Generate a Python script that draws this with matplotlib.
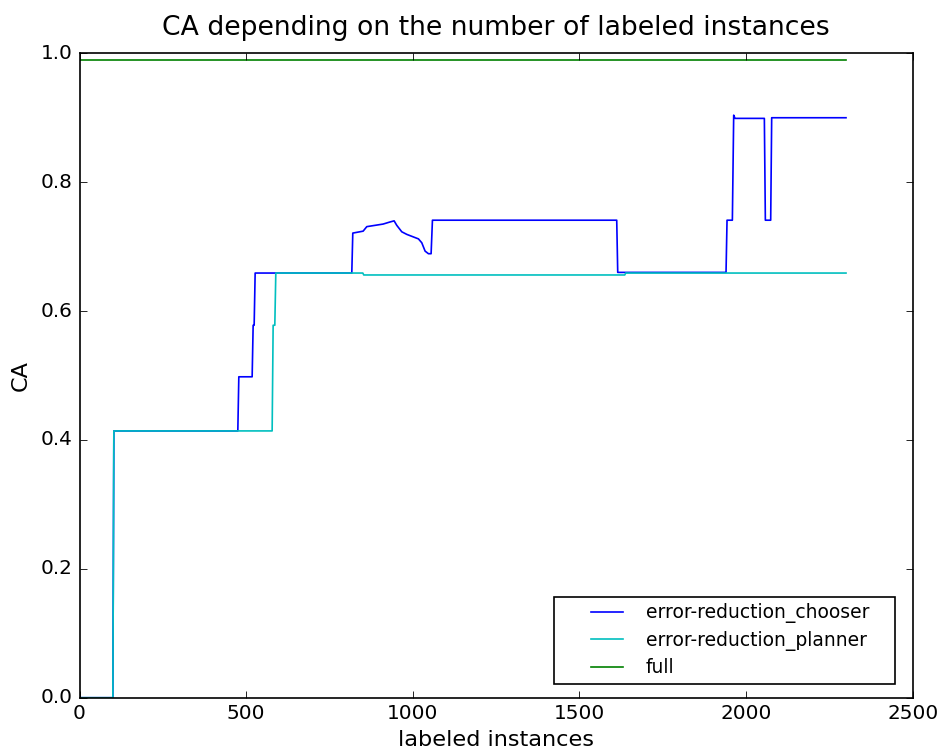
import numpy as np
import matplotlib
matplotlib.use("Agg")
import matplotlib.pyplot as plt
from matplotlib.legend_handler import HandlerLine2D

plt.style.use("classic")

# learning curves: (labeled instances, CA) break points
chooser_x = [0, 100, 103, 475, 478, 518, 521, 524, 527, 535,
             817, 820, 851, 862, 911, 930, 944, 952, 967, 982,
             1002, 1017, 1027, 1037, 1047, 1055, 1059,
             1612, 1615, 1940, 1943, 1959, 1963, 1967,
             2055, 2058, 2074, 2077, 2300]
chooser_y = [0.0, 0.0, 0.414, 0.414, 0.498, 0.498, 0.578, 0.578, 0.659, 0.659,
             0.659, 0.721, 0.724, 0.731, 0.735, 0.738, 0.740, 0.733, 0.723, 0.719,
             0.715, 0.712, 0.706, 0.693, 0.689, 0.689, 0.741,
             0.741, 0.660, 0.660, 0.741, 0.741, 0.904, 0.899,
             0.899, 0.741, 0.741, 0.900, 0.900]

planner_x = [0, 100, 103, 578, 581, 586, 589, 850, 853, 1636, 1639, 2300]
planner_y = [0.0, 0.0, 0.414, 0.414, 0.578, 0.578, 0.659, 0.659, 0.656, 0.656, 0.659, 0.659]

full_x = [0, 2300]
full_y = [0.99, 0.99]

fig = plt.figure(figsize=(949 / 120, 756 / 120), dpi=120)
ax = fig.add_axes([0.0838, 0.0771, 0.8779, 0.8524])

ax.plot(chooser_x, chooser_y, color="b", label="error-reduction_chooser")
ax.plot(planner_x, planner_y, color="c", label="error-reduction_planner")
ax.plot(full_x, full_y, color="g", label="full")

ax.set_xlim(0, 2500)
ax.set_ylim(0.0, 1.0)
ax.set_xticks(np.arange(0, 2501, 500))
ax.set_yticks(np.arange(0, 1.01, 0.2))
ax.set_title("CA depending on the number of labeled instances", fontsize=16, pad=11)
ax.set_xlabel("labeled instances", fontsize=13.4, labelpad=4)
ax.set_ylabel("CA", fontsize=13.4, labelpad=6)

# wide legend box with the line samples set in from the left edge
ax.legend(loc="lower left", mode="expand", fontsize=11.25,
          bbox_to_anchor=(0.5695, 0.0213, 0.4093, 0.13), borderaxespad=0,
          handlelength=3.65, handletextpad=0.9, labelspacing=0.4, borderpad=0.35,
          handler_map={matplotlib.lines.Line2D: HandlerLine2D(xpad=1.3)})

fig.savefig("out.png", dpi=120)
